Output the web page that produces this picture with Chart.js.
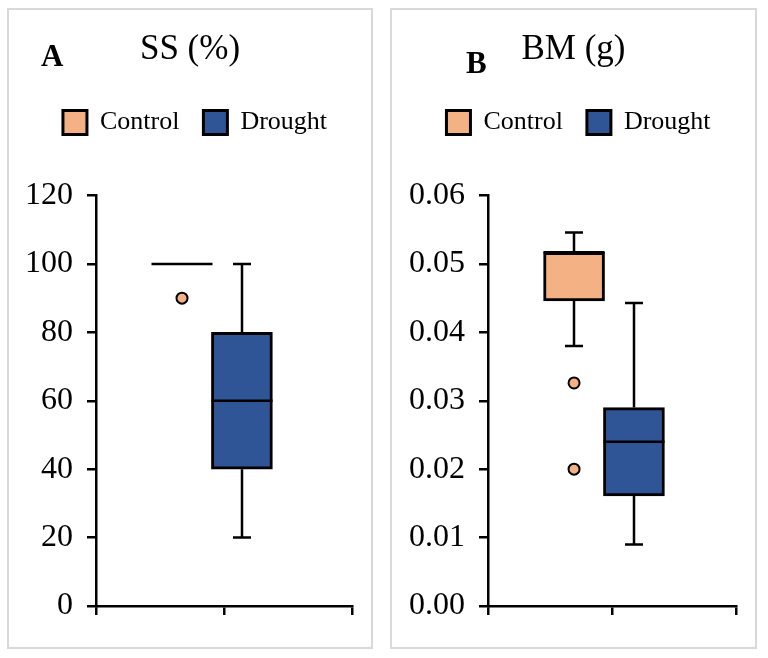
<!DOCTYPE html>
<html>
<head>
<meta charset="utf-8">
<title>SS y BM</title>
<script src="https://cdn.jsdelivr.net/npm/chart.js@4.4.0/dist/chart.umd.min.js"></script>
<style>
  body { margin: 0; background: #fff; width: 768px; height: 658px; position: relative; overflow: hidden; }
  .panel { position: absolute; top: 8px; border: 2px solid #d9d9d9; background: #fff; }
  #panelA { left: 7px; width: 362px; height: 637px; }
  #panelB { left: 390px; width: 363px; height: 637px; }
  canvas { display: block; }
</style>
</head>
<body>
<div class="panel" id="panelA"><canvas id="graficoSS" width="362" height="637"></canvas></div>
<div class="panel" id="panelB"><canvas id="graficoBM" width="363" height="637"></canvas></div>
<script>
// Grupos y colores
const grupos = ['Control', 'Drought'];
const colores = ['#F4B183', '#2F5597'];

// Panel A: SS (%)
const ssMin = [100, 20];
const ssQ1 = [100, 40];
const ssMediana = [100, 60];
const ssQ3 = [100, 80];
const ssMax = [100, 100];
const ssAtipicos = [[90], []];
const ssValoresEje = [0, 20, 40, 60, 80, 100, 120];
const ssEtiquetasEje = ['0', '20', '40', '60', '80', '100', '120'];

// Panel B: BM (g)
const bmMin = [0.038, 0.009];
const bmQ1 = [0.0446, 0.0161];
const bmMediana = [0.0517, 0.024];
const bmQ3 = [0.0517, 0.029];
const bmMax = [0.0546, 0.0443];
const bmAtipicos = [[0.0326, 0.0200], []];
const bmValoresEje = [0, 0.01, 0.02, 0.03, 0.04, 0.05, 0.06];
const bmEtiquetasEje = ['0.00', '0.01', '0.02', '0.03', '0.04', '0.05', '0.06'];

const fuente = 'Liberation Serif, Times New Roman, serif';

// Bigotes y medianas de cada caja
const bigotes = {
    id: 'bigotes',
    afterDatasetsDraw(chart, args, opts) {
        const ctx = chart.ctx;
        const x = chart.scales.x;
        const y = chart.scales.y;
        const mitad = opts.ancho / 2;
        const tapa = opts.tapa / 2;
        ctx.save();
        ctx.strokeStyle = '#000';
        ctx.lineCap = 'butt';
        for (let i = 0; i < opts.pos.length; i++) {
            const cx = Math.round(x.getPixelForValue(opts.pos[i]));
            const yMin = y.getPixelForValue(opts.min[i]);
            const yQ1 = y.getPixelForValue(opts.q1[i]);
            const yMed = y.getPixelForValue(opts.mediana[i]);
            const yQ3 = y.getPixelForValue(opts.q3[i]);
            const yMax = y.getPixelForValue(opts.max[i]);
            ctx.lineWidth = 2.5;
            ctx.beginPath();
            if (opts.max[i] > opts.q3[i]) {
                ctx.moveTo(cx, yQ3); ctx.lineTo(cx, yMax);
                ctx.moveTo(cx - tapa, yMax); ctx.lineTo(cx + tapa, yMax);
            }
            if (opts.min[i] < opts.q1[i]) {
                ctx.moveTo(cx, yQ1); ctx.lineTo(cx, yMin);
                ctx.moveTo(cx - tapa, yMin); ctx.lineTo(cx + tapa, yMin);
            }
            ctx.stroke();
            // mediana
            ctx.lineWidth = 2.5;
            ctx.beginPath();
            ctx.moveTo(cx - mitad, yMed); ctx.lineTo(cx + mitad, yMed);
            ctx.stroke();
        }
        ctx.restore();
    }
};

// Letra del panel (A / B)
const letra = {
    id: 'letra',
    afterDraw(chart, args, opts) {
        const ctx = chart.ctx;
        ctx.save();
        ctx.fillStyle = '#000';
        ctx.font = 'bold 31px ' + fuente;
        ctx.textBaseline = 'alphabetic';
        ctx.fillText(opts.texto, opts.x, opts.y);
        ctx.restore();
    }
};

// Espacio extra bajo la leyenda y ajuste horizontal
const ajusteLeyenda = {
    id: 'ajusteLeyenda',
    beforeLayout(chart, args, opts) {
        const leyenda = chart.legend;
        if (!leyenda || leyenda._ajustada) return;
        const fitOriginal = leyenda.fit;
        leyenda.fit = function() {
            fitOriginal.call(this);
            this.height += opts.extra;
            this.lineWidths[0] -= opts.desplazar * 2;
        };
        leyenda._ajustada = true;
    }
};

function crearGrafico(id, d) {
    const datasets = [];
    for (let i = 0; i < grupos.length; i++) {
        datasets.push({
            type: 'bar',
            label: grupos[i],
            data: [{ x: d.pos[i], y: [d.q1[i], d.q3[i]] }],
            backgroundColor: colores[i],
            borderColor: '#000',
            borderWidth: 3,
            borderSkipped: false,
            barThickness: 61,
            grouped: false
        });
    }
    for (let i = 0; i < grupos.length; i++) {
        datasets.push({
            type: 'scatter',
            label: grupos[i] + ' outliers',
            data: d.atipicos[i].map(v => ({ x: d.pos[i], y: v })),
            pointRadius: 5.5,
            pointBackgroundColor: colores[i],
            pointBorderColor: '#000',
            pointBorderWidth: 2
        });
    }

    const lineaNegra = { color: '#000', lineWidth: 2.5, drawOnChartArea: false, drawTicks: true, tickLength: 9, offset: false };

    return new Chart(document.getElementById(id), {
        type: 'bar',
        data: { datasets: datasets },
        options: {
            responsive: false,
            animation: false,
            devicePixelRatio: 1,
            layout: { padding: { left: 0, right: 0, top: 0, bottom: 32 } },
            scales: {
                x: {
                    type: 'linear',
                    min: 0,
                    max: 2,
                    offset: false,
                    ticks: { display: false, stepSize: 1 },
                    grid: lineaNegra,
                    border: { color: '#000', width: 2.5 }
                },
                y: {
                    min: d.valores[0],
                    max: d.valores[d.valores.length - 1],
                    afterBuildTicks: (eje) => { eje.ticks = d.valores.map(v => ({ value: v })); },
                    afterFit: (eje) => { eje.width = d.anchoEje; },
                    ticks: {
                        callback: (v, i) => d.etiquetas[i],
                        font: { family: fuente, size: 32 },
                        color: '#000',
                        padding: 14
                    },
                    grid: lineaNegra,
                    border: { color: '#000', width: 2.5 }
                },
                // eje vacío a la derecha, solo para dejar margen
                margen: {
                    type: 'linear',
                    position: 'right',
                    display: true,
                    ticks: { display: false },
                    grid: { display: false, drawTicks: false },
                    border: { display: false },
                    afterFit: (eje) => { eje.width = 19; }
                }
            },
            plugins: {
                title: {
                    display: true,
                    text: d.titulo,
                    color: '#000',
                    font: { family: fuente, size: 35, weight: 'normal' },
                    padding: { top: 19, bottom: 14.5 }
                },
                legend: {
                    display: true,
                    position: 'top',
                    labels: {
                        color: '#000',
                        font: { family: fuente, size: 26 },
                        boxWidth: 24,
                        boxHeight: 24,
                        padding: 24,
                        filter: (item) => item.datasetIndex < grupos.length
                    }
                },
                tooltip: { enabled: false },
                bigotes: { pos: d.pos, min: d.min, q1: d.q1, mediana: d.mediana, q3: d.q3, max: d.max, ancho: 61, tapa: 18 },
                letra: d.letra,
                ajusteLeyenda: { extra: 50, desplazar: d.desplazar }
            }
        },
        plugins: [bigotes, letra, ajusteLeyenda]
    });
}

crearGrafico('graficoSS', {
    titulo: 'SS (%)',
    pos: [0.672, 1.14],
    min: ssMin, q1: ssQ1, mediana: ssMediana, q3: ssQ3, max: ssMax,
    atipicos: ssAtipicos,
    valores: ssValoresEje, etiquetas: ssEtiquetasEje,
    anchoEje: 87,
    letra: { texto: 'A', x: 32, y: 56 },
    desplazar: 5
});

crearGrafico('graficoBM', {
    titulo: 'BM (g)',
    pos: [0.694, 1.177],
    min: bmMin, q1: bmQ1, mediana: bmMediana, q3: bmQ3, max: bmMax,
    atipicos: bmAtipicos,
    valores: bmValoresEje, etiquetas: bmEtiquetasEje,
    anchoEje: 96,
    letra: { texto: 'B', x: 74, y: 63 },
    desplazar: 5
});
</script>
</body>
</html>
